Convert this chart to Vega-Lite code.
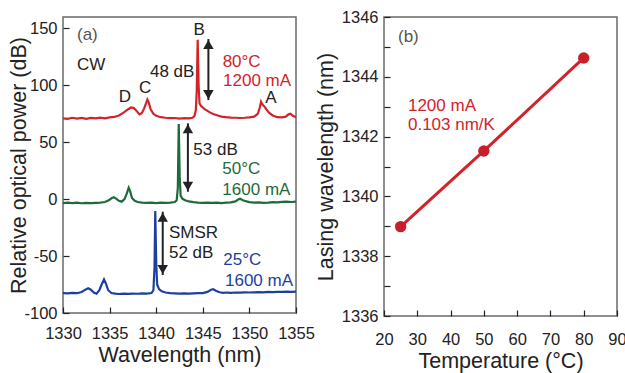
{
  "$schema": "https://vega.github.io/schema/vega-lite/v6.json",
  "padding": {"left": 8, "top": 8, "right": 4, "bottom": 2},
  "bounds": "flush",
  "spacing": 88,
  "config": {
    "font": "Liberation Sans",
    "view": {"stroke": "#6a6a6a", "strokeWidth": 1.5},
    "axis": {"domain": false, "grid": false, "tickColor": "#222", "tickWidth": 1.2, "labelFontSize": 16.5, "labelColor": "#222", "titleFontSize": 21.5, "titleFontWeight": "normal", "titleColor": "#222", "labelFont": "Liberation Sans", "titleFont": "Liberation Sans"},
    "text": {"font": "Liberation Sans"}
  },
  "hconcat": [
    {
      "width": 233,
      "height": 296,
      "layer": [
        {
          "data": {"values": [
            {"s":"80C","wl":1330.0,"p":71},{"s":"80C","wl":1330.5,"p":70.5},{"s":"80C","wl":1331,"p":71.5},{"s":"80C","wl":1331.5,"p":70.8},{"s":"80C","wl":1332,"p":71.3},{"s":"80C","wl":1332.5,"p":70.6},{"s":"80C","wl":1333,"p":71.4},{"s":"80C","wl":1333.5,"p":70.9},{"s":"80C","wl":1334,"p":71.6},{"s":"80C","wl":1334.5,"p":71},{"s":"80C","wl":1335,"p":71.8},{"s":"80C","wl":1335.5,"p":72.2},{"s":"80C","wl":1336,"p":73.5},{"s":"80C","wl":1336.5,"p":76},{"s":"80C","wl":1337,"p":79},{"s":"80C","wl":1337.3,"p":80.5},{"s":"80C","wl":1337.6,"p":80},{"s":"80C","wl":1337.9,"p":77.5},{"s":"80C","wl":1338.2,"p":74.5},{"s":"80C","wl":1338.45,"p":75.5},{"s":"80C","wl":1338.7,"p":79.5},{"s":"80C","wl":1338.9,"p":84},{"s":"80C","wl":1339.05,"p":87.5},{"s":"80C","wl":1339.2,"p":85},{"s":"80C","wl":1339.4,"p":79},{"s":"80C","wl":1339.7,"p":75},{"s":"80C","wl":1340,"p":73.2},{"s":"80C","wl":1340.5,"p":72},{"s":"80C","wl":1341,"p":71.5},{"s":"80C","wl":1341.5,"p":71.2},{"s":"80C","wl":1342,"p":71.3},{"s":"80C","wl":1342.5,"p":70.8},{"s":"80C","wl":1343,"p":71.2},{"s":"80C","wl":1343.5,"p":71},{"s":"80C","wl":1343.9,"p":71.5},{"s":"80C","wl":1344.1,"p":73},{"s":"80C","wl":1344.25,"p":78},{"s":"80C","wl":1344.35,"p":95},{"s":"80C","wl":1344.45,"p":140},{"s":"80C","wl":1344.55,"p":100},{"s":"80C","wl":1344.65,"p":84},{"s":"80C","wl":1344.8,"p":82},{"s":"80C","wl":1345,"p":80.5},{"s":"80C","wl":1345.2,"p":79},{"s":"80C","wl":1345.5,"p":77.5},{"s":"80C","wl":1345.8,"p":76},{"s":"80C","wl":1346.2,"p":74.5},{"s":"80C","wl":1346.6,"p":73.5},{"s":"80C","wl":1347,"p":72.5},{"s":"80C","wl":1347.5,"p":72},{"s":"80C","wl":1348,"p":71.6},{"s":"80C","wl":1348.5,"p":71.5},{"s":"80C","wl":1349,"p":71.3},{"s":"80C","wl":1349.5,"p":71.5},{"s":"80C","wl":1350,"p":71.8},{"s":"80C","wl":1350.5,"p":72.5},{"s":"80C","wl":1350.9,"p":75},{"s":"80C","wl":1351.1,"p":80},{"s":"80C","wl":1351.25,"p":85.5},{"s":"80C","wl":1351.4,"p":83},{"s":"80C","wl":1351.6,"p":81.5},{"s":"80C","wl":1351.8,"p":79},{"s":"80C","wl":1352.1,"p":76},{"s":"80C","wl":1352.5,"p":73.5},{"s":"80C","wl":1353,"p":72},{"s":"80C","wl":1353.5,"p":71.8},{"s":"80C","wl":1353.9,"p":72.5},{"s":"80C","wl":1354.2,"p":74.5},{"s":"80C","wl":1354.4,"p":75},{"s":"80C","wl":1354.7,"p":73},{"s":"80C","wl":1355,"p":72},
            {"s":"50C","wl":1330,"p":-3.5},{"s":"50C","wl":1330.5,"p":-3},{"s":"50C","wl":1331,"p":-3.4},{"s":"50C","wl":1331.5,"p":-3.1},{"s":"50C","wl":1332,"p":-3.6},{"s":"50C","wl":1332.5,"p":-3.2},{"s":"50C","wl":1333,"p":-3.5},{"s":"50C","wl":1333.5,"p":-3.2},{"s":"50C","wl":1334,"p":-3},{"s":"50C","wl":1334.5,"p":-2.5},{"s":"50C","wl":1334.9,"p":-1},{"s":"50C","wl":1335.2,"p":0.8},{"s":"50C","wl":1335.45,"p":1.6},{"s":"50C","wl":1335.7,"p":0.5},{"s":"50C","wl":1336,"p":-1.5},{"s":"50C","wl":1336.3,"p":-2.2},{"s":"50C","wl":1336.6,"p":0},{"s":"50C","wl":1336.85,"p":5},{"s":"50C","wl":1337.05,"p":10},{"s":"50C","wl":1337.2,"p":7},{"s":"50C","wl":1337.4,"p":1},{"s":"50C","wl":1337.7,"p":-1.5},{"s":"50C","wl":1338,"p":-2.5},{"s":"50C","wl":1338.5,"p":-3},{"s":"50C","wl":1339,"p":-3.3},{"s":"50C","wl":1339.5,"p":-3.1},{"s":"50C","wl":1340,"p":-3.4},{"s":"50C","wl":1340.5,"p":-3},{"s":"50C","wl":1341,"p":-3.3},{"s":"50C","wl":1341.5,"p":-3},{"s":"50C","wl":1342,"p":-2.5},{"s":"50C","wl":1342.2,"p":-1},{"s":"50C","wl":1342.32,"p":10},{"s":"50C","wl":1342.42,"p":66},{"s":"50C","wl":1342.52,"p":20},{"s":"50C","wl":1342.62,"p":3},{"s":"50C","wl":1342.8,"p":0.5},{"s":"50C","wl":1343.1,"p":-1},{"s":"50C","wl":1343.5,"p":-2},{"s":"50C","wl":1344,"p":-2.6},{"s":"50C","wl":1344.5,"p":-3},{"s":"50C","wl":1345,"p":-3.2},{"s":"50C","wl":1345.5,"p":-3},{"s":"50C","wl":1346,"p":-3.3},{"s":"50C","wl":1346.5,"p":-3.1},{"s":"50C","wl":1347,"p":-3.4},{"s":"50C","wl":1347.5,"p":-3},{"s":"50C","wl":1348,"p":-2.8},{"s":"50C","wl":1348.5,"p":-2},{"s":"50C","wl":1348.8,"p":-0.3},{"s":"50C","wl":1349,"p":0.3},{"s":"50C","wl":1349.3,"p":-1},{"s":"50C","wl":1349.7,"p":-2},{"s":"50C","wl":1350,"p":-2.6},{"s":"50C","wl":1350.5,"p":-3},{"s":"50C","wl":1351,"p":-2.8},{"s":"50C","wl":1351.5,"p":-3.2},{"s":"50C","wl":1352,"p":-3},{"s":"50C","wl":1352.5,"p":-2.6},{"s":"50C","wl":1353,"p":-2.8},{"s":"50C","wl":1353.5,"p":-2.4},{"s":"50C","wl":1354,"p":-2.2},{"s":"50C","wl":1354.5,"p":-2.5},{"s":"50C","wl":1355,"p":-2.2},
            {"s":"25C","wl":1330,"p":-82.5},{"s":"25C","wl":1330.5,"p":-82.8},{"s":"25C","wl":1331,"p":-82.3},{"s":"25C","wl":1331.5,"p":-82.6},{"s":"25C","wl":1332,"p":-81.5},{"s":"25C","wl":1332.4,"p":-79.5},{"s":"25C","wl":1332.7,"p":-78.3},{"s":"25C","wl":1333,"p":-79.5},{"s":"25C","wl":1333.3,"p":-82},{"s":"25C","wl":1333.6,"p":-83},{"s":"25C","wl":1333.9,"p":-80},{"s":"25C","wl":1334.15,"p":-75},{"s":"25C","wl":1334.4,"p":-70.5},{"s":"25C","wl":1334.6,"p":-74},{"s":"25C","wl":1334.85,"p":-80},{"s":"25C","wl":1335.2,"p":-82.5},{"s":"25C","wl":1335.6,"p":-83},{"s":"25C","wl":1336,"p":-83.3},{"s":"25C","wl":1336.5,"p":-83},{"s":"25C","wl":1337,"p":-83.2},{"s":"25C","wl":1337.5,"p":-83},{"s":"25C","wl":1338,"p":-83.1},{"s":"25C","wl":1338.5,"p":-82.8},{"s":"25C","wl":1339,"p":-83},{"s":"25C","wl":1339.5,"p":-82.5},{"s":"25C","wl":1339.7,"p":-80},{"s":"25C","wl":1339.82,"p":-60},{"s":"25C","wl":1339.9,"p":-10.5},{"s":"25C","wl":1340,"p":-55},{"s":"25C","wl":1340.1,"p":-75},{"s":"25C","wl":1340.3,"p":-79},{"s":"25C","wl":1340.6,"p":-81},{"s":"25C","wl":1341,"p":-82},{"s":"25C","wl":1341.5,"p":-82.6},{"s":"25C","wl":1342,"p":-82.8},{"s":"25C","wl":1342.5,"p":-83},{"s":"25C","wl":1343,"p":-82.8},{"s":"25C","wl":1343.5,"p":-83},{"s":"25C","wl":1344,"p":-82.8},{"s":"25C","wl":1344.5,"p":-82.6},{"s":"25C","wl":1345,"p":-82.5},{"s":"25C","wl":1345.5,"p":-81.5},{"s":"25C","wl":1345.9,"p":-79.5},{"s":"25C","wl":1346.1,"p":-79},{"s":"25C","wl":1346.4,"p":-80.5},{"s":"25C","wl":1346.8,"p":-81.8},{"s":"25C","wl":1347.2,"p":-82.3},{"s":"25C","wl":1347.6,"p":-82},{"s":"25C","wl":1348,"p":-82.3},{"s":"25C","wl":1348.5,"p":-82},{"s":"25C","wl":1349,"p":-82.1},{"s":"25C","wl":1349.5,"p":-81.9},{"s":"25C","wl":1350,"p":-82},{"s":"25C","wl":1350.5,"p":-81.8},{"s":"25C","wl":1351,"p":-81.7},{"s":"25C","wl":1351.5,"p":-81.8},{"s":"25C","wl":1352,"p":-81.5},{"s":"25C","wl":1352.5,"p":-81.6},{"s":"25C","wl":1353,"p":-81.4},{"s":"25C","wl":1353.5,"p":-81.5},{"s":"25C","wl":1354,"p":-81.3},{"s":"25C","wl":1354.5,"p":-81.4},{"s":"25C","wl":1355,"p":-81.2}
          ]},
          "mark": {"type": "line", "strokeWidth": 2.2, "clip": true},
          "encoding": {
            "x": {"field": "wl", "type": "quantitative", "scale": {"domain": [1330, 1355], "nice": false, "zero": false},
                  "axis": {"title": "Wavelength (nm)", "values": [1330,1335,1340,1345,1350,1355], "labelExpr": "'' + datum.value", "offset": -6, "tickSize": 6, "labelFlush": false, "labelOverlap": false, "labelPadding": 12, "titlePadding": 3}},
            "y": {"field": "p", "type": "quantitative", "scale": {"domain": [-100, 160], "nice": false, "zero": false},
                  "axis": {"title": "Relative optical power (dB)", "values": [-100,-50,0,50,100,150], "labelExpr": "'' + datum.value", "offset": -6, "tickSize": 6, "labelFlush": false, "labelOverlap": false, "labelPadding": 6, "titlePadding": -7}},
            "stroke": {"field": "s", "type": "nominal", "scale": {"domain": ["80C","50C","25C"], "range": ["#d2232a","#1d6b3b","#1e3f9e"]}, "legend": null},
            "detail": {"field": "s"}
          }
        },
        {
          "data": {"values": [
            {"wl": 1345.6, "lo": 87, "hi": 140.7},
            {"wl": 1343.4, "lo": 6.5, "hi": 66.6},
            {"wl": 1340.7, "lo": -66.6, "hi": -11}
          ]},
          "layer": [
            {"mark": {"type": "rule", "color": "#222", "strokeWidth": 2}, "encoding": {"x": {"field": "wl", "type": "quantitative"}, "y": {"field": "lo", "type": "quantitative"}, "y2": {"field": "hi"}}},
            {"mark": {"type": "point", "shape": "triangle-up", "filled": true, "color": "#222", "size": 110, "opacity": 1, "yOffset": 5.5}, "encoding": {"x": {"field": "wl", "type": "quantitative"}, "y": {"field": "hi", "type": "quantitative"}}},
            {"mark": {"type": "point", "shape": "triangle-down", "filled": true, "color": "#222", "size": 110, "opacity": 1, "yOffset": -5.5}, "encoding": {"x": {"field": "wl", "type": "quantitative"}, "y": {"field": "lo", "type": "quantitative"}}}
          ]
        },
        {
          "data": {"values": [
            {"wl": 1331.5, "p": 144.2, "t": "(a)", "k": "panel"},
            {"wl": 1331.5, "p": 117.8, "t": "CW", "k": "note"},
            {"wl": 1339.33, "p": 112, "t": "48 dB", "k": "note"},
            {"wl": 1347.13, "p": 120.7, "t": "80°C", "k": "80C"},
            {"wl": 1347.17, "p": 103.8, "t": "1200 mA", "k": "80C"},
            {"wl": 1343.98, "p": 43.2, "t": "53 dB", "k": "note"},
            {"wl": 1347.1, "p": 26.2, "t": "50°C", "k": "50C"},
            {"wl": 1347.1, "p": 8, "t": "1600 mA", "k": "50C"},
            {"wl": 1341.37, "p": -30, "t": "SMSR", "k": "note"},
            {"wl": 1341.37, "p": -47.6, "t": "52 dB", "k": "note"},
            {"wl": 1347.2, "p": -53.4, "t": "25°C", "k": "25C"},
            {"wl": 1347.38, "p": -71.9, "t": "1600 mA", "k": "25C"}
          ]},
          "mark": {"type": "text", "align": "left", "baseline": "middle", "fontSize": 17},
          "encoding": {
            "x": {"field": "wl", "type": "quantitative"},
            "y": {"field": "p", "type": "quantitative"},
            "text": {"field": "t"},
            "fill": {"field": "k", "type": "nominal", "scale": {"domain": ["80C","50C","25C","note","panel"], "range": ["#d2232a","#1d6b3b","#1e3f9e","#222222","#555555"]}, "legend": null}
          }
        },
        {
          "data": {"values": [
            {"wl": 1336.65, "p": 90, "t": "D"},
            {"wl": 1338.8, "p": 97.6, "t": "C"},
            {"wl": 1344.6, "p": 148.6, "t": "B"},
            {"wl": 1352.3, "p": 88.6, "t": "A"}
          ]},
          "mark": {"type": "text", "align": "center", "baseline": "middle", "fontSize": 17, "color": "#222"},
          "encoding": {
            "x": {"field": "wl", "type": "quantitative"},
            "y": {"field": "p", "type": "quantitative"},
            "text": {"field": "t"}
          }
        }
      ]
    },
    {
      "width": 233,
      "height": 299,
      "encoding": {
        "x": {"field": "temp", "type": "quantitative", "scale": {"domain": [20, 90], "nice": false, "zero": false},
              "axis": {"title": "Temperature (°C)", "values": [20,30,40,50,60,70,80,90], "labelExpr": "'' + datum.value", "offset": -6, "tickSize": 6, "labelFlush": false, "labelOverlap": false, "labelPadding": 15, "titlePadding": 3}},
        "y": {"field": "wl", "type": "quantitative", "scale": {"domain": [1336, 1346], "nice": false, "zero": false},
              "axis": {"title": "Lasing wavelength (nm)", "values": [1336,1337,1338,1339,1340,1341,1342,1343,1344,1345,1346], "labelExpr": "datum.value % 2 == 0 ? '' + datum.value : ''", "offset": -6, "tickSize": 6, "labelFlush": false, "labelOverlap": false, "labelPadding": 6, "titlePadding": 4}}
      },
      "layer": [
        {
          "data": {"values": [
            {"temp": 25, "wl": 1338.99},
            {"temp": 50, "wl": 1341.52},
            {"temp": 80, "wl": 1344.63}
          ]},
          "layer": [
            {"mark": {"type": "line", "color": "#d2232a", "strokeWidth": 3}},
            {"mark": {"type": "point", "filled": true, "size": 130, "color": "#c8202a", "opacity": 1}}
          ]
        },
        {
          "data": {"values": [
            {"temp": 24.2, "wl": 1345.33, "t": "(b)", "k": "panel"},
            {"temp": 27.2, "wl": 1343.03, "t": "1200 mA", "k": "80C"},
            {"temp": 27.2, "wl": 1342.39, "t": "0.103 nm/K", "k": "80C"}
          ]},
          "mark": {"type": "text", "align": "left", "baseline": "middle", "fontSize": 17},
          "encoding": {
            "text": {"field": "t"},
            "fill": {"field": "k", "type": "nominal", "scale": {"domain": ["80C","panel"], "range": ["#d2232a","#555555"]}, "legend": null}
          }
        }
      ]
    }
  ]
}
